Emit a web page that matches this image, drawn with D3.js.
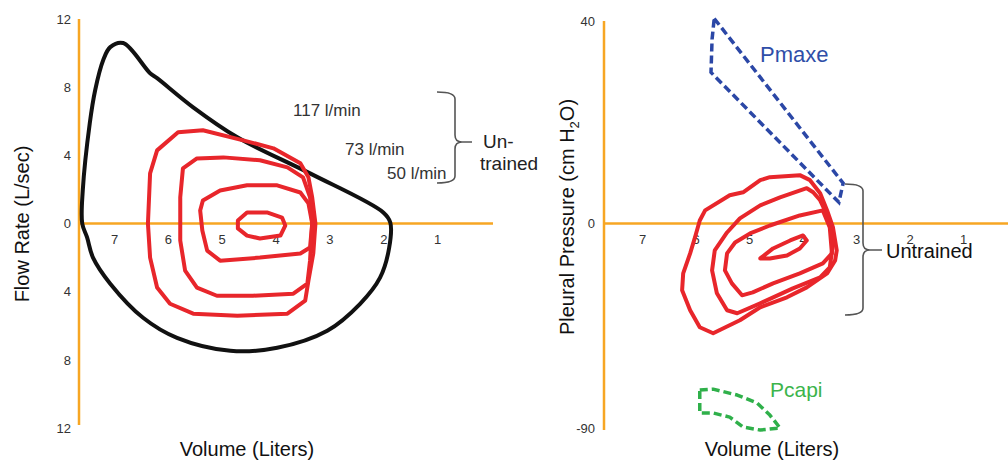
<!DOCTYPE html>
<html>
<head>
<meta charset="utf-8">
<script src="https://cdn.jsdelivr.net/npm/d3@7"></script>
<style>
  body { margin: 0; background: #fff; }
  text { font-family: "Liberation Sans", Arial, sans-serif; }
</style>
</head>
<body>
<div id="chart"></div>
<script>
// tick labels
const volTicks = [7, 6, 5, 4, 3, 2, 1];
const flowTicks = [12, 8, 4, 0, -4, -8, -12];
const pressTicks = [40, 0, -90];

// flow-volume loops, [volume (L), flow (L/s)]
const maxLoop = [[7.59,0],[7.58,1.94],[7.45,5.88],[7.35,7.82],[7.20,9.59],[7.07,10.35],[6.83,10.59],
  [6.33,8.82],[6.20,8.53],[5.53,6.82],[4.71,5.06],[3.36,2.94],[2.00,0.65],[1.87,0.06],[1.89,-1.41],
  [2.06,-3.18],[2.43,-4.71],[3.04,-6.29],[3.97,-7.29],[4.84,-7.47],[5.83,-6.71],[6.46,-5.53],
  [7.07,-3.53],[7.39,-2.0],[7.50,-0.82]];
const flow117 = [[6.20,4.29],[5.81,5.35],[5.35,5.47],[4.60,4.88],[4.04,4.41],[3.54,3.53],[3.39,2.71],
  [3.32,1.53],[3.26,0],[3.30,-1.76],[3.39,-3.35],[3.45,-4.53],[3.78,-5.29],[4.71,-5.41],[5.53,-5.29],
  [5.96,-4.71],[6.20,-3.76],[6.33,-2.0],[6.37,0],[6.33,2.94]];
const flow73 = [[5.72,3.24],[5.46,3.82],[4.97,3.88],[4.29,3.71],[3.78,3.29],[3.49,2.71],[3.36,1.53],
  [3.32,0],[3.36,-2.18],[3.41,-3.53],[3.67,-4.12],[4.42,-4.24],[5.09,-4.24],[5.46,-3.76],[5.68,-2.76],
  [5.77,-1.0],[5.77,1.53]];
const flow50 = [[5.35,1.35],[5.03,1.94],[4.53,2.24],[3.97,2.24],[3.54,1.82],[3.39,1.18],[3.32,0],
  [3.36,-1.41],[3.54,-1.76],[4.29,-2.0],[5.03,-2.18],[5.27,-1.59],[5.36,-0.41],[5.40,0.76]];
const flowRest = [[4.70,0.18],[4.53,0.65],[4.16,0.65],[3.88,0.35],[3.82,-0.12],[3.91,-0.71],
  [4.29,-0.88],[4.53,-0.71],[4.70,-0.29]];

// pressure-volume loops, [volume (L), pleural pressure (cm H2O)]
const press117 = [[5.82,2.59],[5.36,5.57],[5.11,6.17],[4.79,8.56],[4.61,9.15],[4.05,9.55],[3.86,8.56],
  [3.67,5.97],[3.54,2.59],[3.43,-1.76],[3.36,-11.85],[3.39,-16.24],[3.54,-21.95],[3.92,-28.1],
  [4.29,-32.49],[4.79,-36.88],[5.17,-42.58],[5.67,-48.29],[5.92,-45.66],[6.10,-38.19],[6.25,-29.41],
  [6.23,-21.95],[6.10,-13.17],[6.01,-6.15],[5.92,0.6]];
const press73 = [[3.92,6.97],[4.42,5.17],[4.79,3.58],[5.17,1.0],[5.41,-3.95],[5.64,-11.85],[5.69,-20.63],
  [5.60,-30.73],[5.41,-38.19],[5.22,-39.51],[4.79,-35.12],[4.18,-28.54],[3.67,-23.71],[3.49,-19.32],
  [3.43,-8.78],[3.49,0.6],[3.67,4.58],[3.80,6.17]];
const press50 = [[3.62,2.59],[4.05,1.59],[4.61,-0.88],[4.98,-4.39],[5.26,-8.34],[5.41,-13.17],
  [5.45,-20.63],[5.32,-26.34],[5.13,-31.61],[4.93,-30.29],[4.55,-26.34],[4.05,-21.95],[3.62,-17.56],
  [3.45,-13.17],[3.49,-1.76]];
const pressRest = [[4.79,-15.37],[4.55,-10.98],[4.23,-7.46],[3.99,-5.27],[3.92,-7.46],[4.05,-10.98],
  [4.29,-14.05],[4.61,-15.37]];
const pmaxe = [[5.65,40.5],[3.24,7.96],[3.32,4.18],[5.71,29.85],[5.69,36.4]];
const pcapi = [[5.92,-73.3],[5.67,-72.9],[5.22,-75.5],[4.85,-79.0],[4.61,-84.3],[4.42,-90.0],
  [4.79,-90.9],[5.11,-89.6],[5.36,-85.2],[5.67,-83.4],[5.92,-83.4]];

const flowLabels = ["117 l/min", "73 l/min", "50 l/min"];

const W = 1008, H = 462;
const orange = "#f7a623", red = "#e8262b";

const svg = d3.select("#chart").append("svg")
    .attr("width", W)
    .attr("height", H);

// ---------- left panel: flow vs volume
const x1 = d3.scaleLinear().domain([7.65, 0]).range([79, 491]);
const y1 = d3.scaleLinear().domain([-12, 12]).range([428, 19]);

const left = svg.append("g");

left.append("line")
    .attr("x1", x1(7.65)).attr("x2", x1(7.65))
    .attr("y1", y1(12)).attr("y2", y1(-12) - 3)
    .attr("stroke", orange).attr("stroke-width", 2.5);
left.append("line")
    .attr("x1", x1(7.65)).attr("x2", x1(0) + 2)
    .attr("y1", y1(0)).attr("y2", y1(0))
    .attr("stroke", orange).attr("stroke-width", 2.5);

left.append("g")
    .attr("transform", "translate(" + x1(7.65) + ",0)")
    .call(d3.axisLeft(y1).tickValues(flowTicks).tickSize(0).tickPadding(8)
      .tickFormat(d => Math.abs(d)))
    .call(g => g.select(".domain").remove());

left.append("g")
    .attr("transform", "translate(0," + y1(0) + ")")
    .call(d3.axisBottom(x1).tickValues(volTicks).tickSize(0).tickPadding(11))
    .call(g => g.select(".domain").remove());

const line1 = d3.line().x(d => x1(d[0])).y(d => y1(d[1]));

left.append("path")
    .datum(maxLoop)
    .attr("d", line1.curve(d3.curveCatmullRomClosed.alpha(0.5)))
    .attr("fill", "none").attr("stroke", "#111").attr("stroke-width", 4);

const lineR1 = d3.line().x(d => x1(d[0])).y(d => y1(d[1])).curve(d3.curveLinearClosed);
left.selectAll(".redloop")
    .data([flow117, flow73, flow50, flowRest])
  .enter().append("path")
    .attr("d", lineR1)
    .attr("fill", "none").attr("stroke", red).attr("stroke-width", 4)
    .attr("stroke-linejoin", "round");

// ---------- right panel: pleural pressure vs volume
const x2 = d3.scaleLinear().domain([7.71, 0]).range([604, 1016.5]);
const y2 = d3.scaleLinear().domain([-90, 0, 40]).range([428, 223.5, 21]);

const right = svg.append("g");

right.append("line")
    .attr("x1", x2(7.71)).attr("x2", x2(7.71))
    .attr("y1", y2(40)).attr("y2", y2(-90) + 2)
    .attr("stroke", orange).attr("stroke-width", 2.5);
right.append("line")
    .attr("x1", x2(7.71)).attr("x2", W)
    .attr("y1", y2(0)).attr("y2", y2(0))
    .attr("stroke", orange).attr("stroke-width", 2.5);

right.append("g")
    .attr("transform", "translate(" + x2(7.71) + ",0)")
    .call(d3.axisLeft(y2).tickValues(pressTicks).tickSize(0).tickPadding(9)
      .tickFormat(d => String(d)))
    .call(g => g.select(".domain").remove());

right.append("g")
    .attr("transform", "translate(0," + y2(0) + ")")
    .call(d3.axisBottom(x2).tickValues(volTicks).tickSize(0).tickPadding(11))
    .call(g => g.select(".domain").remove());

const lineR2 = d3.line().x(d => x2(d[0])).y(d => y2(d[1])).curve(d3.curveLinearClosed);
right.selectAll(".redloop")
    .data([press117, press73, press50, pressRest])
  .enter().append("path")
    .attr("d", lineR2)
    .attr("fill", "none").attr("stroke", red).attr("stroke-width", 4)
    .attr("stroke-linejoin", "round");

right.append("path")
    .datum(pmaxe)
    .attr("d", lineR2)
    .attr("fill", "none").attr("stroke", "#2b47a6").attr("stroke-width", 3.5)
    .attr("stroke-dasharray", "8,4");

right.append("path")
    .datum(pcapi)
    .attr("d", lineR2)
    .attr("fill", "none").attr("stroke", "#2fb04a").attr("stroke-width", 3.5)
    .attr("stroke-dasharray", "8,4")
    .attr("stroke-linejoin", "round");

// tick text style
svg.selectAll(".tick text")
    .attr("font-size", 13)
    .attr("fill", "#333")
    .style("font-family", "'Liberation Sans', Arial, sans-serif");

// ---------- braces
function brace(g, xHook, xSpine, xTip, yTop, yMid, yBot) {
  const r = 7;
  const p = d3.path();
  p.moveTo(xHook, yTop);
  p.quadraticCurveTo(xSpine, yTop, xSpine, yTop + r);
  p.lineTo(xSpine, yMid - r);
  p.quadraticCurveTo(xSpine, yMid, xSpine + r, yMid);
  p.lineTo(xTip, yMid);
  p.moveTo(xSpine + r, yMid);
  p.quadraticCurveTo(xSpine, yMid, xSpine, yMid + r);
  p.lineTo(xSpine, yBot - r);
  p.quadraticCurveTo(xSpine, yBot, xHook, yBot);
  g.append("path").attr("d", p.toString())
    .attr("fill", "none").attr("stroke", "#555").attr("stroke-width", 1.6);
}
brace(left, 437, 455, 472, 92, 142, 183);
brace(right, 845, 863, 882, 184, 250, 315);

// ---------- text
const txt = (g, x, y, s, size, fill, anchor) => g.append("text")
    .attr("x", x).attr("y", y).attr("font-size", size)
    .attr("fill", fill).attr("text-anchor", anchor || "start").text(s);

txt(left, 293, 116, flowLabels[0], 17, "#333");
txt(left, 345, 155, flowLabels[1], 17, "#333");
txt(left, 387, 179, flowLabels[2], 17, "#333");
txt(left, 483, 148, "Un-", 19, "#222");
txt(left, 480, 170, "trained", 19, "#222");
txt(left, 247, 456, "Volume (Liters)", 20, "#111", "middle");

left.append("text")
    .attr("transform", "translate(29,224) rotate(-90)")
    .attr("text-anchor", "middle").attr("font-size", 20).attr("fill", "#111")
    .text("Flow Rate (L/sec)");

txt(right, 886, 258, "Untrained", 20, "#111");
txt(right, 760, 62, "Pmaxe", 22, "#2f4ea8");
txt(right, 770, 397, "Pcapi", 21, "#3cb44b");
txt(right, 772, 456, "Volume (Liters)", 20, "#111", "middle");

const pl = right.append("text")
    .attr("transform", "translate(574,217) rotate(-90)")
    .attr("text-anchor", "middle").attr("font-size", 20).attr("fill", "#111");
pl.append("tspan").text("Pleural Pressure (cm H");
pl.append("tspan").attr("font-size", 13).attr("dy", 5).text("2");
pl.append("tspan").attr("dy", -5).text("O)");
</script>
</body>
</html>
